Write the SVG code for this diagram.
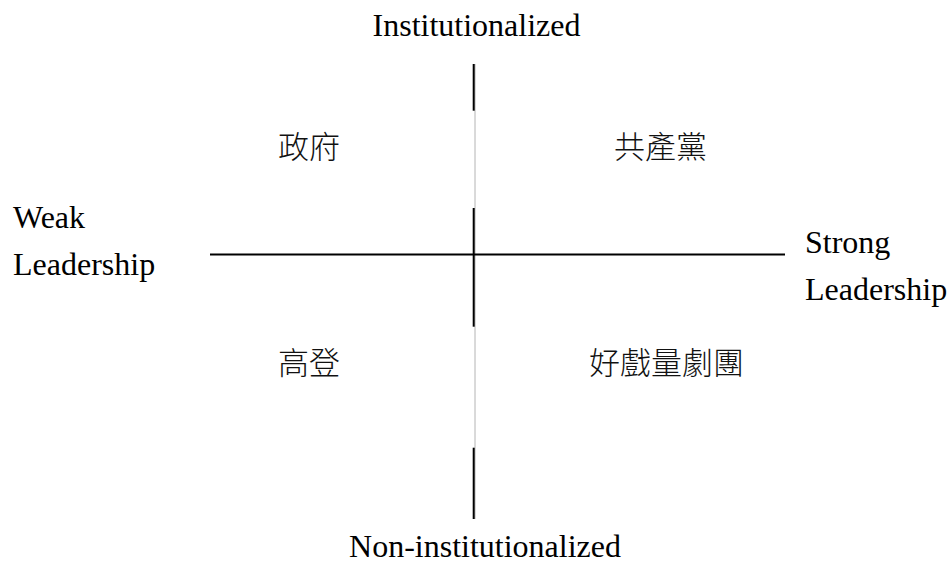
<svg xmlns="http://www.w3.org/2000/svg" width="952" height="568" viewBox="0 0 952 568">
<style>
.en{font-family:"Liberation Serif","Times New Roman",serif;font-size:32px;fill:#000}
.zh{font-family:"Liberation Serif","Noto Sans CJK TC",serif;font-size:31px;font-weight:300;fill:#111}
.axis{stroke:#000;stroke-width:2;fill:none}
.thin{stroke:#b4b4b4;stroke-width:1;fill:none}
</style>
<rect width="952" height="568" fill="#fff"/>
<g id="connectors">
<line class="thin" x1="475" y1="64" x2="475" y2="519"/>
<line class="axis" x1="473.7" y1="64" x2="473.7" y2="110.7"/>
<line class="axis" x1="473.7" y1="208" x2="473.7" y2="326.7"/>
<line class="axis" x1="473.7" y1="447.7" x2="473.7" y2="519"/>
<line class="axis" x1="210" y1="254.5" x2="785" y2="254.5"/>
</g>
<g id="top"><text class="en" x="476.5" y="36" text-anchor="middle">Institutionalized</text></g>
<g id="bottom"><text class="en" x="485" y="557" text-anchor="middle">Non-institutionalized</text></g>
<g id="left"><text class="en" x="13" y="228">Weak</text><text class="en" x="13" y="275">Leadership</text></g>
<g id="right"><text class="en" x="805" y="253">Strong</text><text class="en" x="805" y="300">Leadership</text></g>
<g id="q1"><text class="zh" x="278" y="158">政府</text></g>
<g id="q2"><text class="zh" x="614" y="158">共產黨</text></g>
<g id="q3"><text class="zh" x="278" y="374">高登</text></g>
<g id="q4"><text class="zh" x="589" y="374">好戲量劇團</text></g>
</svg>
